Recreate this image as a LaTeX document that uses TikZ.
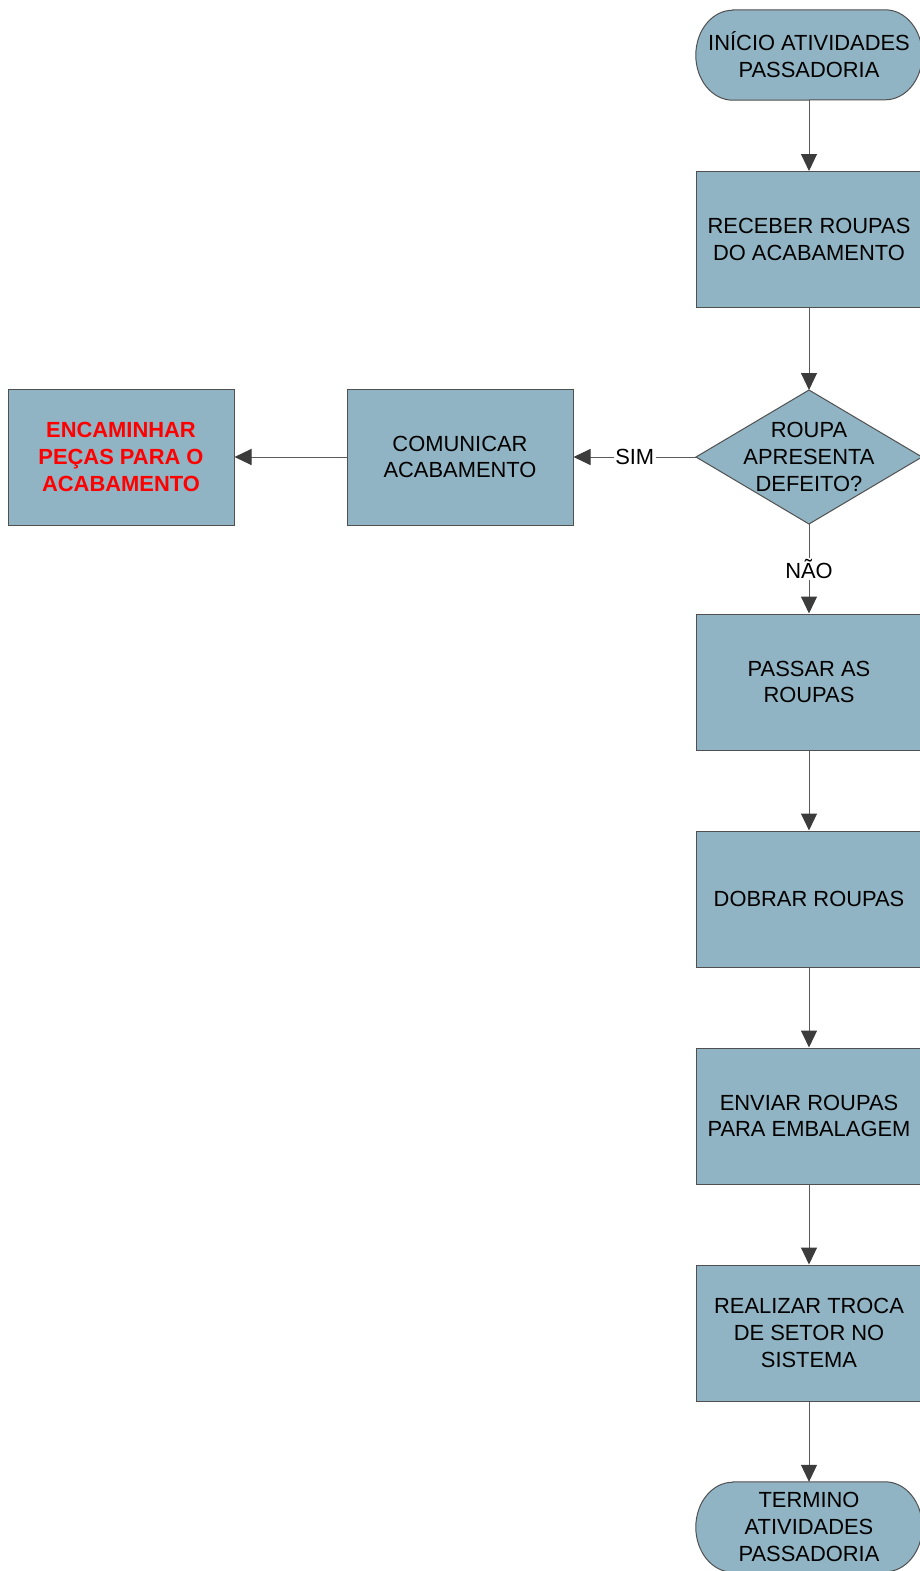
\documentclass[tikz,border=0pt]{standalone}
\usepackage{fontspec}
\setmainfont{Liberation Sans}
\usetikzlibrary{arrows.meta,backgrounds}
\definecolor{boxfill}{HTML}{90B4C3}
\definecolor{boxedge}{HTML}{505050}
\definecolor{wire}{HTML}{5A5A5A}
\definecolor{tipc}{HTML}{3C3C3C}
\definecolor{alertred}{HTML}{FF0000}
% outline of a terminal (start/end) node with elliptical ends
\newcommand\termoutline[1]{%
  \draw[shapeline]
    ([xshift=37pt]#1.north west) -- ([xshift=-37pt]#1.north east)
    arc[start angle=90,end angle=-90,x radius=37pt,y radius=45pt]
    -- ([xshift=37pt]#1.south west)
    arc[start angle=270,end angle=90,x radius=37pt,y radius=45pt] -- cycle;}
\begin{document}
\begin{tikzpicture}[x=1pt,y=-1pt,
  txt/.style={font=\fontsize{21.9}{26.8}\selectfont},
  shapeline/.style={draw=boxedge,line width=1pt,fill=boxfill},
  proc/.style={txt,shapeline,minimum width=226pt,
    minimum height=136pt,inner sep=0pt,align=center},
  term/.style={txt,minimum width=226pt,minimum height=90pt,inner sep=0pt,align=center},
  flow/.style={draw=wire,line width=1pt,-{Triangle[length=17pt,width=16pt,color=tipc]}},
  lbl/.style={txt,fill=white,inner sep=1.5pt}]
\begin{scope}[on background layer]
  \fill[white] (0,0) rectangle (919,1571);
\end{scope}
\useasboundingbox (0,0) rectangle (919,1571);

% main column
\node[term] (start) at (809,55) {INÍCIO ATIVIDADES\\PASSADORIA};
\node[proc] (receive) at (809,239.5) {RECEBER ROUPAS\\DO ACABAMENTO};

% decision
\coordinate (dec) at (809,457);
\coordinate (dtop) at (809,390);
\coordinate (dbot) at (809,524);
\coordinate (dleft) at (696,457);
\coordinate (dright) at (922,457);
\draw[shapeline] (dtop) -- (dright) -- (dbot) -- (dleft) -- cycle;
\node[txt,align=center] (dectext) at (dec) {ROUPA\\APRESENTA\\DEFEITO?};

\node[proc] (press) at (809,682) {PASSAR AS\\ROUPAS};
\node[proc] (fold) at (809,899) {DOBRAR ROUPAS};
\node[proc] (send) at (809,1116) {ENVIAR ROUPAS\\PARA EMBALAGEM};
\node[proc] (swap) at (809,1333) {REALIZAR TROCA\\DE SETOR NO\\SISTEMA};
\node[term] (finish) at (809,1527) {TERMINO\\ATIVIDADES\\PASSADORIA};

\begin{scope}[on background layer]
  \termoutline{start}
  \termoutline{finish}
\end{scope}

% side branch
\node[proc] (notify) at (460,457) {COMUNICAR\\ACABAMENTO};
\node[proc,font=\fontsize{21.9}{26.8}\selectfont\bfseries,text=alertred] (forward) at (121,457)
  {ENCAMINHAR\\PEÇAS PARA O\\ACABAMENTO};

% connectors
\draw[flow] (start) -- (receive);
\draw[flow] (receive) -- (dtop);
\draw[flow] (dbot) -- node[lbl] {NÃO} (press);
\draw[flow] (dleft) -- node[lbl] {SIM} (notify);
\draw[flow] (notify) -- (forward);
\draw[flow] (press) -- (fold);
\draw[flow] (fold) -- (send);
\draw[flow] (send) -- (swap);
\draw[flow] (swap) -- (finish);
\end{tikzpicture}
\end{document}
